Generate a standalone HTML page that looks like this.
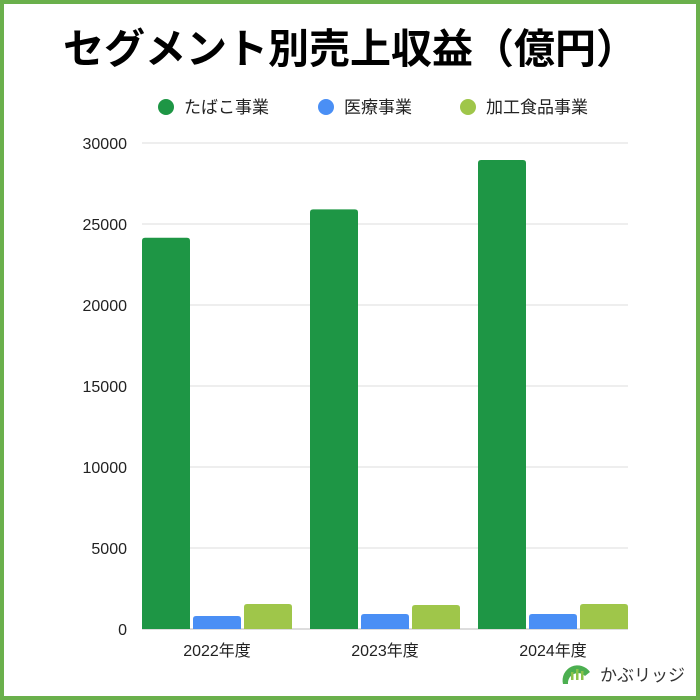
<!DOCTYPE html>
<html><head><meta charset="utf-8"><style>
body{margin:0;width:700px;height:700px;overflow:hidden;background:#fff;font-family:"Liberation Sans","Noto Sans CJK JP",sans-serif}
#frame{position:absolute;left:0;top:0;width:692px;height:692px;border:4px solid #6ab04c;background:#fff}
</style></head><body>
<div id="frame"></div>
<svg id="chart" width="700" height="700" style="position:absolute;left:0;top:0">
<text x="350" y="63" text-anchor="middle" font-size="41" font-weight="bold" fill="#000" font-family="Liberation Sans, Noto Sans CJK JP, sans-serif">セグメント別売上収益（億円）</text>
<g id="legend"></g>
<g id="grid"></g>
<g id="bars"></g>
<g id="xlabels"></g>
<g>
<path d="M563,684 A15,15 0 0 1 590,672 L585,676 A10,10 0 0 0 568,684 Z" fill="#4caf50"/>
<rect x="571" y="672" width="2.5" height="8" fill="#8bc34a"/><rect x="576" y="669" width="2.5" height="11" fill="#8bc34a"/><rect x="581" y="671" width="2.5" height="9" fill="#8bc34a"/>
<text x="600" y="681" font-size="17" fill="#333" font-family="Liberation Sans, Noto Sans CJK JP, sans-serif">かぶリッジ</text>
</g>
</svg>
<script>
const categories=["2022年度","2023年度","2024年度"];
const seriesNames=["たばこ事業","医療事業","加工食品事業"];
const tobacco=[24150,25900,28950];
const medical=[800,925,925];
const food=[1540,1480,1540];
const yTicks=[0,5000,10000,15000,20000,25000,30000];
const colors=["#1e9645","#4a8ff5","#9fc64a"];
const NS="http://www.w3.org/2000/svg";
const x0=142,x1=628,yBase=629,yTop=143,yMax=30000;
const y=v=>yBase-(v/yMax)*(yBase-yTop);
const groupW=168, barW=48, gap=3;
function mk(tag,attrs,parent){const e=document.createElementNS(NS,tag);for(const k in attrs)e.setAttribute(k,attrs[k]);parent.appendChild(e);return e;}
const grid=document.getElementById('grid');
yTicks.forEach(t=>{
 const l=mk('line',{x1:x0,x2:x1,y1:y(t),y2:y(t),stroke:t===0?'#bbb':'#ddd','stroke-width':1},grid);
 
 
 const tx=mk('text',{x:127,y:y(t)+6,'text-anchor':'end','font-size':16,fill:'#222'},grid);
 tx.textContent=t;
 
 
});
const bars=document.getElementById('bars');
const series=[tobacco,medical,food];
categories.forEach((c,i)=>{
 series.forEach((s,j)=>{
  const bx=x0+i*groupW+j*(barW+gap);
  const r=mk('path',{d:`M${bx},${yBase} V${y(s[i])+3} Q${bx},${y(s[i])} ${bx+3},${y(s[i])} H${bx+barW-3} Q${bx+barW},${y(s[i])} ${bx+barW},${y(s[i])+3} V${yBase} Z`,fill:colors[j]},bars);
  
  
 });
 const t=mk('text',{x:x0+i*groupW+(3*barW+2*gap)/2,y:656,'text-anchor':'middle','font-size':16,fill:'#222'},document.getElementById('xlabels'));
 t.textContent=c;
 
 
});
const legend=document.getElementById('legend');
const lx=[166,326,468];
seriesNames.forEach((n,j)=>{
 const g=mk('g',{},legend);
 
 
 mk('circle',{cx:lx[j],cy:107,r:8,fill:colors[j]},g);
 const t=mk('text',{x:lx[j]+18,y:113,'font-size':17,fill:'#222'},g);
 t.textContent=n;
});
</script>
</body></html>
